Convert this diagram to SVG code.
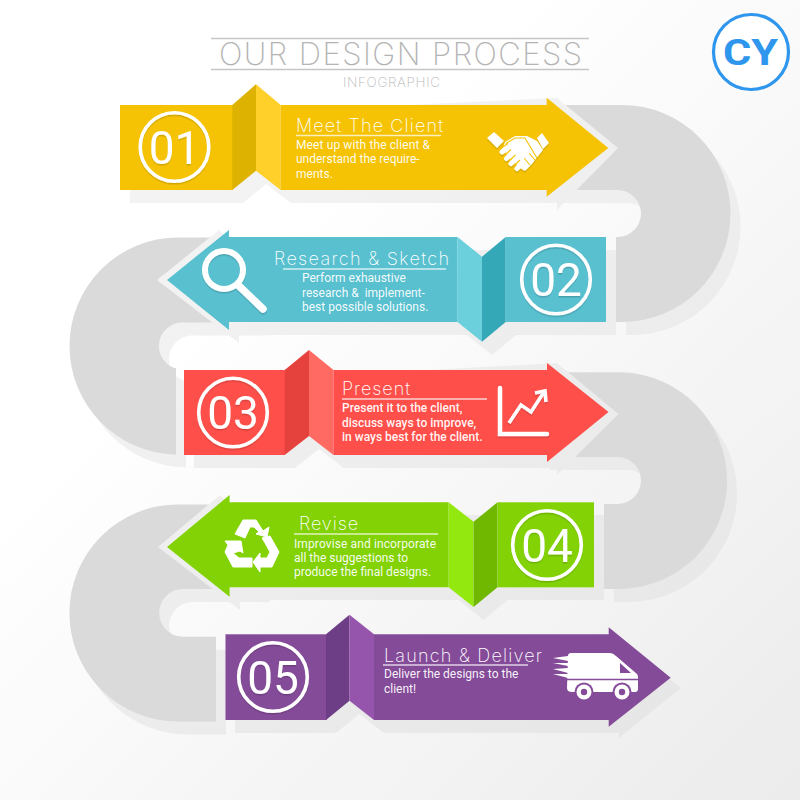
<svg xmlns="http://www.w3.org/2000/svg" width="800" height="800" viewBox="0 0 800 800">
<defs>
<linearGradient id="bg" gradientUnits="userSpaceOnUse" x1="260" y1="260" x2="780" y2="790"><stop offset="0" stop-color="#ffffff"/><stop offset="1" stop-color="#ececec"/></linearGradient>
<linearGradient id="sh" gradientUnits="userSpaceOnUse" x1="260" y1="160" x2="700" y2="780"><stop offset="0" stop-color="#f3f3f3"/><stop offset="1" stop-color="#e5e5e5"/></linearGradient>
<filter id="ds" x="-20%" y="-20%" width="140%" height="140%"><feDropShadow dx="0" dy="1.5" stdDeviation="0.6" flood-color="#000" flood-opacity="0.16"/></filter>
<path id="b1" d="M540,105H622A108.5,108.5 0 0 1 622,322H616V237H617.5A23.5,23.5 0 0 0 617.5,190H540Z"/>
<path id="b2" d="M260,237.5H178A108.5,108.5 0 0 0 178,454.5H176V368.6A23.5,23.5 0 0 1 182.5,322.5H260Z"/>
<path id="b3" d="M540,372.3H622A108.4,108.4 0 0 1 622,589H604V504H617.5A23.5,23.5 0 0 0 617.5,457H540Z"/>
<path id="b4" d="M260,504.4H178A108.6,108.6 0 0 0 178,721.6H216V636.7H183A23.8,23.8 0 0 1 183,589H260Z"/>
</defs>
<style>
.bsh{fill:url(#sh)}
.band{fill:#dadada}
.shadow{fill:url(#sh)}
.ring{fill:none;stroke:#fff;stroke-width:3.6}
.num{font-family:"Roboto","Liberation Sans",sans-serif;font-weight:400;font-size:46px;fill:#fff;text-anchor:middle}
.ttl{font-family:"Inter","Lato",sans-serif;font-weight:200;font-size:18px;fill:#fff}
.txt{font-family:"Roboto","Liberation Sans",sans-serif;font-size:12px;fill:#fff;fill-opacity:.95}
.med{font-weight:500}
.rule{stroke:#fff;stroke-opacity:.75;stroke-width:1.5;fill:none}
.wh{fill:#fff}
</style>
<rect width="800" height="800" fill="url(#bg)"/>
<g id="header">
<path d="M211,38.5H589M211,69.5H589" stroke="#c6c6c6" stroke-width="1.5" fill="none"/>
<text x="219" y="65" textLength="363" font-family="Inter, Lato, sans-serif" font-weight="200" font-size="31" fill="#b4b4b4">OUR DESIGN PROCESS</text>
<text x="343" y="87" textLength="97" font-family="Inter, Lato, sans-serif" font-weight="200" font-size="13.5" fill="#b9b9b9">INFOGRAPHIC</text>
</g>
<g id="logo">
<circle cx="751" cy="52" r="37.500" fill="#fff" stroke="#2f96ee" stroke-width="3.200"/>
<text x="723" y="65" textLength="55" lengthAdjust="spacingAndGlyphs" font-family="Roboto, sans-serif" font-weight="700" font-size="37" fill="#2f96ee">CY</text>
</g>
<g id="connectors">
<g class="bsh"><use href="#b1" transform="translate(10,13)"/><use href="#b2" transform="translate(10,13)"/><use href="#b3" transform="translate(10,13)"/><use href="#b4" transform="translate(10,13)"/></g>
<g class="band"><use href="#b1"/><use href="#b2"/><use href="#b3"/><use href="#b4"/></g>
</g>
<g id="step-01">
<polygon class="shadow" points="130,118 557,98 618,148 557,210 557,203 291,203 266,184 243,203 130,203"/>
<polygon fill="#f5c303" points="120,105 233,105 233,190 120,190"/>
<polygon fill="#ddb200" points="232.3,105 256,84.3 256,170.7 232.3,190"/>
<polygon fill="#ffcf2a" points="256,84.3 280.7,105 280.7,190 256,170.7"/>
<polygon fill="#f5c303" points="280.7,105 546.7,105 546.7,97.7 608.3,148 546.7,196.7 546.7,190 280.7,190"/>
<g filter="url(#ds)"><circle class="ring" cx="174.500" cy="147" r="34.300"/><text class="num" x="174.500" y="163.500">01</text></g>
<text class="ttl" x="296" y="131.500" textLength="147">Meet The Client</text>
<path class="rule" d="M296,135.500H441"/>
<text class="txt" x="296" y="148.500" textLength="134">Meet up with the client &amp;</text>
<text class="txt" x="296" y="163">understand the require-</text>
<text class="txt" x="296" y="177.500">ments.</text>
<g id="icon-handshake" class="wh" filter="url(#ds)">
<polygon points="487,138 494,132 504,141 497,148"/>
<polygon points="537,138 542,133 549,143 543,149"/>
<path d="M505,142L515,136H527L537,141L543,150L535,160L532,164L525,171L520,168L507,155L503,148Z"/>
<path d="M502,152L508,147M506.500,158.500L513,152.500M511,163.500L517,157.500M517,168.500L522,163.500" fill="none" stroke="#fff" stroke-width="5" stroke-linecap="round"/>
<path d="M506,143.500L515,138H525L537,158M499,149.500L508,143.500M504.500,155.500L511,149.500M509,161L515.500,155M514,166L520,160M524,158L530,165M529,153L535,160" fill="none" stroke="#f5c303" stroke-width="1.100"/>
</g>
</g>
<g id="step-02">
<polygon class="shadow" points="157,280 219,230 240,250 616,250 616,335 516,335 492,355 467,335 239,335 239,343"/>
<polygon fill="#58c0cf" points="457.5,237 229,237 229,230 167,280 229,330 229,322 457.5,322"/>
<polygon fill="#6cd0dc" points="457.5,237 482,256.7 482,341.7 457.5,322"/>
<polygon fill="#35a8b8" points="482,256.7 505.7,237 505.7,322 482,341.7"/>
<rect x="505.700" y="237" width="100.300" height="85" fill="#58c0cf"/>
<g filter="url(#ds)"><circle class="ring" cx="556" cy="279.500" r="34.300"/><text class="num" x="556" y="296">02</text></g>
<text class="ttl" x="274" y="265" textLength="175">Research &amp; Sketch</text>
<path class="rule" d="M283,269H446"/>
<text class="txt" x="302" y="282">Perform exhaustive</text>
<text class="txt" x="302" y="296.500" xml:space="preserve">research &amp;  implement-</text>
<text class="txt" x="302" y="311">best possible solutions.</text>
<g id="icon-magnifier" filter="url(#ds)" fill="none" stroke="#fff">
<circle cx="224" cy="270" r="19" stroke-width="6"/>
<path d="M238,285L263,309" stroke-width="7.500" stroke-linecap="round"/>
</g>
</g>
<g id="step-03">
<polygon class="shadow" points="194,383 557,363 618.5,414 557,475 557,468 343.5,468 319,449 295,468 194,468"/>
<rect x="184" y="370" width="101" height="85" fill="#ff4f4a"/>
<polygon fill="#e6423d" points="284.7,370 309,350 309,436 284.7,455"/>
<polygon fill="#ff6a62" points="309,350 333.5,370 333.5,455 309,436"/>
<polygon fill="#ff4f4a" points="333.5,370 547,370 547,363 608.5,412 547,462 547,455 333.5,455"/>
<g filter="url(#ds)"><circle class="ring" cx="233" cy="412.500" r="34.300"/><text class="num" x="233" y="429">03</text></g>
<text class="ttl" x="342" y="395" textLength="68">Present</text>
<path class="rule" d="M342,399H487"/>
<text class="txt med" x="342" y="412">Present it to the client,</text>
<text class="txt med" x="342" y="426.500">discuss ways to improve,</text>
<text class="txt med" x="342" y="441">in ways best for the client.</text>
<g id="icon-chart" filter="url(#ds)" fill="none" stroke="#fff" stroke-width="3.600">
<path d="M500,388V434H547" stroke-width="4.500" stroke-linecap="round"/>
<path d="M509,423L521,405L531,412L544,392M535,393L545,391L546,402"/>
</g>
</g>
<g id="step-04">
<polygon class="shadow" points="158,547 220,495 240,515 604,515 604,600 507.5,600 483.6,620 458.6,600 240,600 240,610"/>
<polygon fill="#82d205" points="448.6,502.3 229.6,502.3 229.6,495 167,547 229.6,596.7 229.6,587.3 448.6,587.3"/>
<polygon fill="#92e80f" points="448.6,502.3 473.6,521.700 473.6,607 448.6,587.3"/>
<polygon fill="#70b800" points="473.6,521.700 497.5,502.3 497.5,587.3 473.6,607"/>
<rect x="497.500" y="502.300" width="96.500" height="85" fill="#82d205"/>
<g filter="url(#ds)"><circle class="ring" cx="547" cy="545" r="34.300"/><text class="num" x="547" y="561.500">04</text></g>
<text class="ttl" x="299" y="530" textLength="59">Revise</text>
<path class="rule" d="M294,534H438"/>
<text class="txt" x="294" y="548" textLength="142">Improvise and incorporate</text>
<text class="txt" x="294" y="562">all the suggestions to</text>
<text class="txt" x="294" y="576">produce the final designs.</text>
<g id="icon-recycle" class="wh" stroke="#fff" stroke-width="1" stroke-linejoin="round">
<polygon points="235,534 243,520 256,520 263,531 269,527 267,537 256,534 259,532 254,527 250,527 245,538"/>
<polygon points="225,541 241,541 243,553 240,551 233,553 239,558 252,558 252,567 233,567 225,552 228,545"/>
<polygon points="262,538 270,536 279,552 272,567 260,567 260,572 253,562 260,553 260,558 267,558 270,552 265,543"/>
</g>
</g>
<g id="step-05">
<polygon class="shadow" points="235,647 619,640 681,688 619,738 619,733 384,733 359.5,714 336,733 235,733"/>
<rect x="225.500" y="634.300" width="101" height="85.700" fill="#844b99"/>
<polygon fill="#6d3d86" points="326,634.3 349.5,614.7 349.5,700.7 326,720"/>
<polygon fill="#9655ad" points="349.5,614.7 374,634.3 374,720 349.5,700.7"/>
<polygon fill="#844b99" points="374,634.3 608.7,634.3 608.7,627.3 670.7,677.7 608.7,726.7 608.7,720 374,720"/>
<g filter="url(#ds)"><circle class="ring" cx="273" cy="677" r="34.300"/><text class="num" x="273" y="693.500">05</text></g>
<text class="ttl" x="384" y="661.500" textLength="158">Launch &amp; Deliver</text>
<path class="rule" d="M383,665H528"/>
<text class="txt" x="384" y="678">Deliver the designs to the</text>
<text class="txt" x="384" y="693">client!</text>
<g id="icon-truck">
<path class="wh" d="M568,656Q568,653 571,653H610Q613,653 616,656L637,674Q638,675 638,678V689Q638,692 635,692H572Q567,692 567,688Z"/>
<path class="wh" d="M553,658L568,656V661ZM553,663L568,663V666ZM553,669L568,668V673ZM553,674L568,674V678Z"/>
<polygon fill="#844b99" points="620,663 631,673 620,673"/>
<path d="M567,679.500H638" stroke="#844b99" stroke-width="1.500"/>
<circle cx="584" cy="692" r="9.500" fill="#844b99"/><circle cx="584" cy="692" r="7.500" fill="#fff"/><circle cx="584" cy="692" r="3.200" fill="#844b99"/>
<circle cx="622" cy="692" r="9.500" fill="#844b99"/><circle cx="622" cy="692" r="7.500" fill="#fff"/><circle cx="622" cy="692" r="3.200" fill="#844b99"/>
</g>
</g>
</svg>
